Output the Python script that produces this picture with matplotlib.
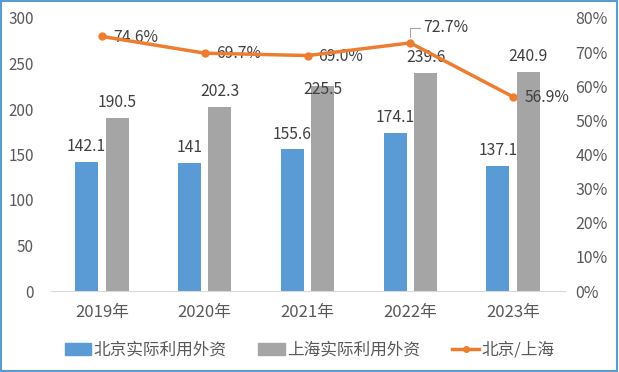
import numpy as np
import matplotlib
matplotlib.use("Agg")
import matplotlib.pyplot as plt
from matplotlib.patches import Rectangle
from matplotlib.lines import Line2D
from matplotlib.ticker import PercentFormatter

plt.rcParams['font.family'] = ['Noto Sans CJK SC', 'DejaVu Sans']

# data
years = ['2019年', '2020年', '2021年', '2022年', '2023年']
beijing = [142.1, 141, 155.6, 174.1, 137.1]
shanghai = [190.5, 202.3, 225.5, 239.6, 240.9]
ratio = [74.6, 69.7, 69.0, 72.7, 56.9]
beijing_labels = ['142.1', '141', '155.6', '174.1', '137.1']
shanghai_labels = ['190.5', '202.3', '225.5', '239.6', '240.9']

BLUE = '#5B9BD5'
GRAY = '#A5A5A5'
ORANGE = '#ED7D31'
TXT = '#404040'
TICK = '#595959'

fig = plt.figure(figsize=(6.19, 3.72), dpi=100)
ax = fig.add_axes([50.5 / 619, 1 - 291 / 372, 514 / 619, 273 / 372])
ax2 = ax.twinx()

x = np.arange(len(years))
w = 0.225
off = 0.148
ax.bar(x - off, beijing, w, color=BLUE, zorder=2)
ax.bar(x + off, shanghai, w, color=GRAY, zorder=2)

ax.set_xlim(-0.5, len(years) - 0.5)
ax.set_ylim(0, 300)
ax.set_yticks(range(0, 301, 50))
ax.set_xticks(x)
ax.set_xticklabels(years)

for xi, v, s in zip(x, beijing, beijing_labels):
    ax.annotate(s, (xi - off, v), xytext=(0, 11), textcoords='offset points',
                ha='center', va='center', fontsize=11.3, color=TXT, zorder=5)
for i, (xi, v, s) in enumerate(zip(x, shanghai, shanghai_labels)):
    dy = -2.5 if i == 2 else 11
    ax.annotate(s, (xi + off, v), xytext=(0, dy), textcoords='offset points',
                ha='center', va='center', fontsize=11.3, color=TXT, zorder=5)

ax2.plot(x, ratio, color=ORANGE, lw=2.5, marker='o', ms=5, zorder=4)
ax2.set_ylim(0, 80)
ax2.set_yticks(range(0, 81, 10))
ax2.yaxis.set_major_formatter(PercentFormatter(decimals=0))

for i, (xi, v) in enumerate(zip(x, ratio)):
    if i == 3:
        ax2.annotate(f'{v:.1f}%', (xi, v), xytext=(9, 11), textcoords='offset points',
                     ha='left', va='center', fontsize=11.3, color=TXT,
                     arrowprops=dict(arrowstyle='-', color='#A5A5A5', lw=0.8,
                                     connectionstyle='angle,angleA=0,angleB=90,rad=0',
                                     shrinkA=0, shrinkB=4))
    else:
        ax2.annotate(f'{v:.1f}%', (xi, v), xytext=(8, -0.5), textcoords='offset points',
                     ha='left', va='center', fontsize=11.3, color=TXT)

for a in (ax, ax2):
    for sp in a.spines.values():
        sp.set_visible(False)
    a.tick_params(length=0, labelsize=11, labelcolor=TICK)
ax.spines['bottom'].set_visible(True)
ax.spines['bottom'].set_color('#D9D9D9')
ax.tick_params(axis='x', pad=9, labelsize=12)
ax.tick_params(axis='y', pad=12)
ax2.tick_params(axis='y', pad=8, labelsize=11.5)

handles = [
    Rectangle((0, 0), 1, 1, color=BLUE),
    Rectangle((0, 0), 1, 1, color=GRAY),
    Line2D([0], [0], color=ORANGE, lw=2.5, marker='o', ms=4),
]
fig.legend(handles, ['北京实际利用外资', '上海实际利用外资', '北京/上海'],
           loc='center', bbox_to_anchor=(0.5, 1 - 350 / 372), ncol=3, frameon=False,
           fontsize=12, labelcolor=TICK, handlelength=1.6, handletextpad=0.15,
           columnspacing=1.9)

fig.patches.append(Rectangle((0.002, 0.003), 0.995, 0.994, transform=fig.transFigure,
                             fill=False, edgecolor=BLUE, lw=1.5))

fig.savefig('out.png', dpi=100)
